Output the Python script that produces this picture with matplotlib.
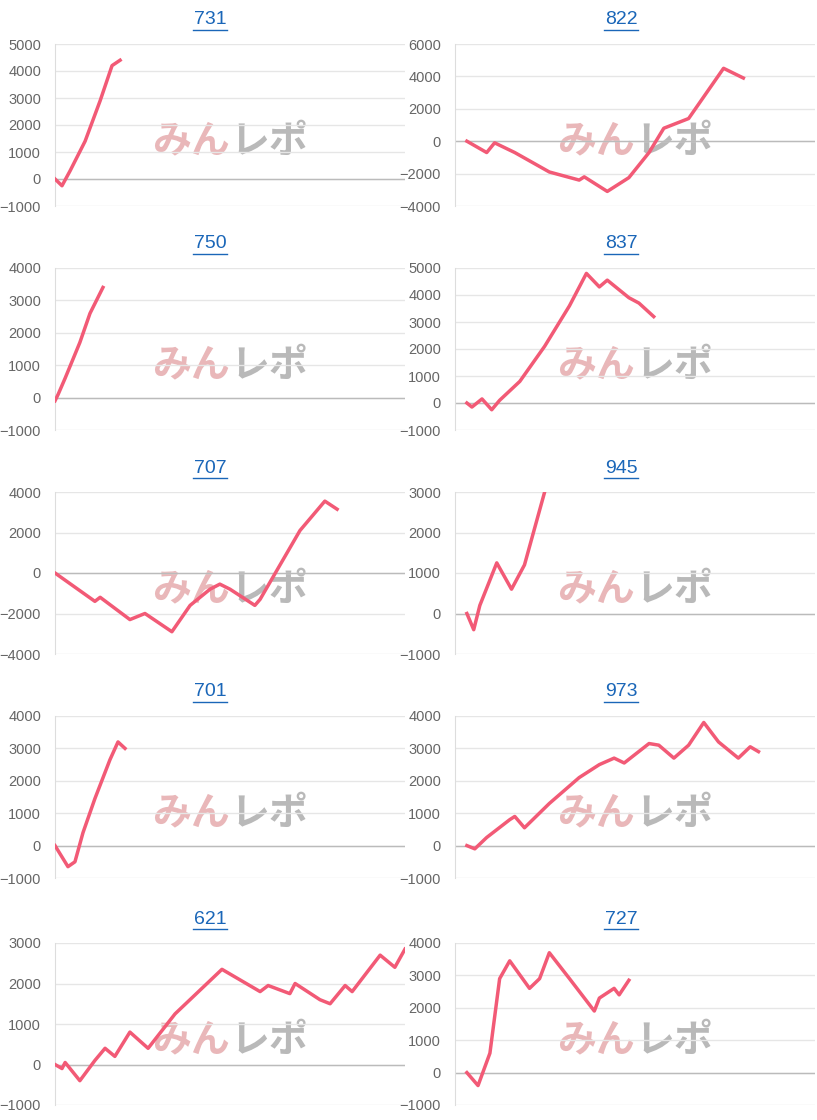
import matplotlib
matplotlib.use("Agg")
import matplotlib.pyplot as plt
from matplotlib.lines import Line2D

plt.rcParams['font.family'] = ['Liberation Sans', 'DejaVu Sans']

titles = ["731", "822", "750", "837", "707", "945", "701", "973", "621", "727"]
ylims = [(-1000, 5000, 1000), (-4000, 6000, 2000), (-1000, 4000, 1000), (-1000, 5000, 1000),
         (-4000, 4000, 2000), (-1000, 3000, 1000), (-1000, 4000, 1000), (-1000, 4000, 1000),
         (-1000, 3000, 1000), (-1000, 4000, 1000)]

x731 = [0, 2, 4.3, 8.6, 12.9, 16.3, 18.6]
y731 = [0, -250, 300, 1400, 2900, 4200, 4400]
x822 = [3.3, 8.8, 11.0, 16.6, 26.2, 34.5, 35.9, 42.3, 48.3, 53.9, 58.0, 64.9, 74.6, 80.1]
y822 = [0, -700, -100, -700, -1900, -2400, -2200, -3100, -2250, -700, 800, 1400, 4500, 3900]
x750 = [0, 0.9, 2.9, 7.1, 10.0, 13.7]
y750 = [-100, 100, 600, 1700, 2600, 3400]
x837 = [3.3, 4.7, 7.5, 10.2, 12.4, 18.0, 24.9, 31.8, 36.5, 40.1, 42.3, 48.3, 51.1, 55.2]
y837 = [0, -150, 150, -250, 100, 800, 2100, 3600, 4800, 4300, 4550, 3900, 3700, 3200]
x707 = [0, 5.7, 11.4, 12.9, 21.4, 25.7, 33.4, 38.6, 44.3, 47.1, 50.0, 57.1, 58.6, 70.0, 77.1, 80.6]
y707 = [0, -700, -1400, -1200, -2300, -2000, -2900, -1600, -800, -550, -800, -1600, -1300, 2100, 3550, 3150]
x945 = [3.3, 5.2, 6.9, 11.6, 15.7, 19.3, 24.9]
y945 = [0, -400, 200, 1250, 600, 1200, 3000]
x701 = [0, 3.7, 5.7, 8.0, 11.4, 15.7, 18.0, 20.0]
y701 = [0, -650, -500, 400, 1450, 2650, 3200, 3000]
x973 = [3.3, 5.5, 8.8, 15.2, 16.6, 19.3, 26.2, 34.5, 40.1, 44.2, 47.0, 53.9, 56.6, 60.8, 64.9, 69.1, 73.2, 78.7, 82.0, 84.3]
y973 = [0, -100, 250, 800, 900, 550, 1300, 2100, 2500, 2700, 2550, 3150, 3100, 2700, 3100, 3800, 3200, 2700, 3050, 2900]
x621 = [0, 2, 2.9, 7.1, 11.4, 14.3, 17.1, 21.4, 26.6, 34.3, 47.7, 58.6, 60.9, 67.1, 68.6, 75.7, 78.6, 82.9, 84.9, 92.9, 97.1, 100]
y621 = [0, -100, 50, -400, 100, 400, 200, 800, 400, 1250, 2350, 1800, 1950, 1750, 2000, 1600, 1500, 1950, 1800, 2700, 2400, 2850]
x727 = [3.3, 6.4, 9.7, 12.4, 15.2, 20.7, 23.5, 26.2, 31.8, 38.7, 40.1, 44.2, 45.6, 48.3]
y727 = [0, -400, 600, 2900, 3450, 2600, 2900, 3700, 2900, 1900, 2300, 2600, 2400, 2850]

xs = [x731, x822, x750, x837, x707, x945, x701, x973, x621, x727]
ys = [y731, y822, y750, y837, y707, y945, y701, y973, y621, y727]

W, H = 817, 1120
fig = plt.figure(figsize=(W / 100, H / 100), dpi=100)
tops = [44, 268, 492, 716, 943]
ah = 162
for i in range(10):
    r, c = divmod(i, 2)
    x0 = 55 if c == 0 else 455
    x1 = 405 if c == 0 else 815
    top = tops[r]
    ax = fig.add_axes([x0 / W, 1 - (top + ah) / H, (x1 - x0) / W, ah / H])
    lo, hi, st = ylims[i]
    ax.set_xlim(0, 100)
    ax.set_ylim(lo, hi)
    ax.set_yticks(range(lo, hi + 1, st))
    ax.tick_params(axis='y', length=0, labelsize=10.5, labelcolor='#666666', pad=10)
    ax.set_xticks([])
    for s in ['top', 'right', 'bottom']:
        ax.spines[s].set_visible(False)
    ax.spines['left'].set_color('#dddddd')
    ax.grid(axis='y', color='#e6e6e6', lw=1)
    ax.axhline(0, color='#bbbbbb', lw=1)
    ax.text(0.5, 0.4, "みん", transform=ax.transAxes, ha='right', va='center', fontsize=28,
            color='#e9b7b9', family='Noto Sans CJK JP', fontweight='bold', style='italic', zorder=1)
    ax.text(0.5, 0.4, "レポ", transform=ax.transAxes, ha='left', va='center', fontsize=28,
            color='#b9b9b9', family='Noto Sans CJK JP', fontweight='bold', style='italic', zorder=1)
    ax.plot(xs[i], ys[i], color='#f25a76', lw=2.5, zorder=3)
    cx = 210 if c == 0 else 621
    fig.text(cx / W, 1 - (top - 24) / H, titles[i], ha='center', va='center', fontsize=14, color='#1a66b8')
    fig.add_artist(Line2D([(cx - 17) / W, (cx + 17) / W], [1 - (top - 14) / H] * 2, color='#1a66b8', lw=1))

fig.savefig("out.png", dpi=100)
